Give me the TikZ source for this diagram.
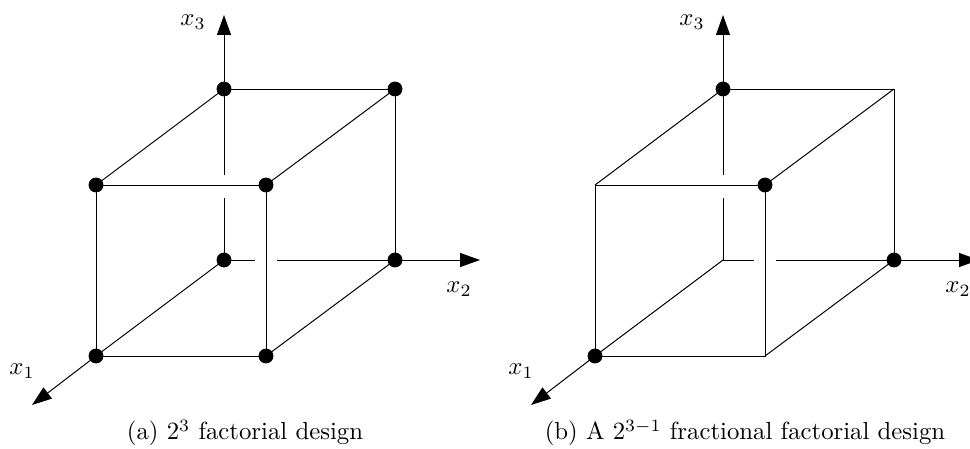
\documentclass[tikz,border=0pt]{standalone}
\usetikzlibrary{arrows.meta}
\tikzset{
  edge/.style={line width=0.4pt},
  axisarrow/.style={line width=0.4pt,-{Triangle[length=8pt,width=5.6pt]}},
  dot/.style={circle,fill=black,inner sep=0pt,minimum size=6pt},
  lab/.style={inner sep=0pt},
}
\newcommand\cubepanel[2]{%
  \coordinate (#1B00) at (224+#2,260);
  \coordinate (#1B01) at (395+#2,260);
  \coordinate (#1B10) at (224+#2,89);
  \coordinate (#1B11) at (395+#2,89);
  \coordinate (#1F00) at (96+#2,356);
  \coordinate (#1F01) at (266+#2,356);
  \coordinate (#1F10) at (96+#2,185);
  \coordinate (#1F11) at (266+#2,185);
  \coordinate (#1gV1) at (224+#2,175);
  \coordinate (#1gV2) at (224+#2,198);
  \coordinate (#1gH1) at (255+#2,260);
  \coordinate (#1gH2) at (277+#2,260);
  \coordinate (#1X1) at (32+#2,405);
  \coordinate (#1X2) at (480+#2,260);
  \coordinate (#1X3) at (224+#2,15);
  % front face
  \draw[edge] (#1F00) -- (#1F01) -- (#1F11) -- (#1F10) -- cycle;
  % depth edges
  \draw[edge] (#1F10) -- (#1B10);
  \draw[edge] (#1F11) -- (#1B11);
  \draw[edge] (#1F01) -- (#1B01);
  \draw[edge] (#1F00) -- (#1B00);
  % back edges
  \draw[edge] (#1B10) -- (#1B11) -- (#1B01);
  \draw[edge] (#1B00) -- (#1gH1);
  \draw[edge] (#1gH2) -- (#1B01);
  \draw[edge] (#1B00) -- (#1gV2);
  \draw[edge] (#1gV1) -- (#1B10);
  % axes
  \draw[axisarrow] (#1B10) -- (#1X3);
  \draw[axisarrow] (#1B01) -- (#1X2);
  \draw[axisarrow] (#1F00) -- (#1X1);
  % axis labels
  \node[lab] (#1L3) at (193+#2,22) {$x_3$};
  \node[lab] (#1L2) at (459+#2,289) {$x_2$};
  \node[lab] (#1L1) at (22+#2,371) {$x_1$};
}
\begin{document}
\begin{tikzpicture}[x=0.404pt,y=-0.404pt]
  \useasboundingbox (0,0) rectangle (970,449);
  \cubepanel{a}{0}
  \cubepanel{b}{499}
  % dots, panel (a)
  \node[dot] (adB00) at (aB00) {};
  \node[dot] (adB01) at (aB01) {};
  \node[dot] (adB10) at (aB10) {};
  \node[dot] (adB11) at (aB11) {};
  \node[dot] (adF00) at (aF00) {};
  \node[dot] (adF01) at (aF01) {};
  \node[dot] (adF10) at (aF10) {};
  \node[dot] (adF11) at (aF11) {};
  % dots, panel (b)
  \node[dot] (bdB10) at (bB10) {};
  \node[dot] (bdF11) at (bF11) {};
  \node[dot] (bdB01) at (bB01) {};
  \node[dot] (bdF00) at (bF00) {};
  % captions
  \node (capa) at (245,433) {(a) $2^3$ factorial design};
  \node (capb) at (745,433) {(b) A $2^{3-1}$ fractional factorial design};
\end{tikzpicture}
\end{document}
